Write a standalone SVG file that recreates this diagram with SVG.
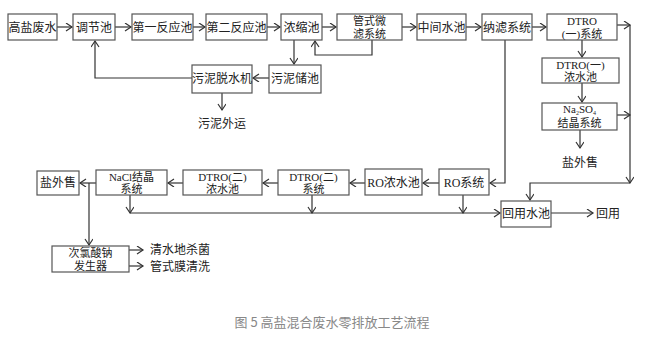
<svg xmlns="http://www.w3.org/2000/svg" width="647" height="344" viewBox="0 0 647 344">
<defs>
<marker id="ah" markerWidth="10" markerHeight="10" refX="7" refY="4" orient="auto" markerUnits="userSpaceOnUse">
<path d="M1,0 L7,4 L1,8" fill="none" stroke="#333" stroke-width="1.2"/>
</marker>
<style>
.b{fill:#fff;stroke:#555;stroke-width:1.2}
.t{font-family:"Liberation Serif","Noto Sans CJK SC",serif;font-size:12px;fill:#222;text-anchor:middle}
.t2{font-family:"Liberation Serif","Noto Sans CJK SC",serif;font-size:11px;fill:#222;text-anchor:middle}
.s{text-anchor:start}
.c path{fill:none;stroke:#333;stroke-width:1.2}
.cap{font-family:"Noto Sans CJK SC","Liberation Sans",sans-serif;font-size:13px;fill:#888;text-anchor:middle}
</style>
</defs>
<rect width="647" height="344" fill="#fff"/>
<g class="c">
<path d="M57,27 H72" marker-end="url(#ah)"/>
<path d="M115,27 H131" marker-end="url(#ah)"/>
<path d="M193,27 H205" marker-end="url(#ah)"/>
<path d="M267,27 H280" marker-end="url(#ah)"/>
<path d="M322,27 H336" marker-end="url(#ah)"/>
<path d="M402,27 H416" marker-end="url(#ah)"/>
<path d="M466,27 H481" marker-end="url(#ah)"/>
<path d="M532,27 H546" marker-end="url(#ah)"/>
<path d="M372,40 V55 H315 V41" marker-end="url(#ah)"/>
<path d="M294,40 V64" marker-end="url(#ah)"/>
<path d="M269,78 H253" marker-end="url(#ah)"/>
<path d="M192,78 H95 V41" marker-end="url(#ah)"/>
<path d="M222,93 V110" marker-end="url(#ah)"/>
<path d="M617,25 H630" marker-end="url(#ah)"/>
<path d="M630,25 V183" marker-end="url(#ah)"/>
<path d="M630,183 H530 V200" marker-end="url(#ah)"/>
<path d="M617,115 H630" marker-end="url(#ah)"/>
<path d="M582,40 V57" marker-end="url(#ah)"/>
<path d="M582,83 V102" marker-end="url(#ah)"/>
<path d="M580,130 V148" marker-end="url(#ah)"/>
<path d="M505,40 V183 H490" marker-end="url(#ah)"/>
<path d="M439,183 H423" marker-end="url(#ah)"/>
<path d="M365,183 H350" marker-end="url(#ah)"/>
<path d="M278,183 H263" marker-end="url(#ah)"/>
<path d="M183,183 H168" marker-end="url(#ah)"/>
<path d="M96,183 H80" marker-end="url(#ah)"/>
<path d="M89,183 V245" marker-end="url(#ah)"/>
<path d="M129,250 H143" marker-end="url(#ah)"/>
<path d="M129,266 H143" marker-end="url(#ah)"/>
<path d="M130,213 H500" marker-end="url(#ah)"/>
<path d="M130,195 V213" marker-end="url(#ah)"/>
<path d="M312,195 V213" marker-end="url(#ah)"/>
<path d="M463,195 V213" marker-end="url(#ah)"/>
<path d="M551,213 H593" marker-end="url(#ah)"/>
</g>
<g id="n1"><rect class="b" x="8" y="14" width="49" height="26"/><text class="t" x="32.5" y="31.5">高盐废水</text></g>
<g id="n2"><rect class="b" x="73" y="14" width="42" height="26"/><text class="t" x="94" y="31.5">调节池</text></g>
<g id="n3"><rect class="b" x="132" y="14" width="61" height="26"/><text class="t" x="162.5" y="31.5">第一反应池</text></g>
<g id="n4"><rect class="b" x="206" y="14" width="61" height="26"/><text class="t" x="236.5" y="31.5">第二反应池</text></g>
<g id="n5"><rect class="b" x="281" y="14" width="41" height="26"/><text class="t" x="301.5" y="31.5">浓缩池</text></g>
<g id="n6"><rect class="b" x="337" y="14" width="65" height="26"/><text class="t2" x="369.5" y="25">管式微</text><text class="t2" x="369.5" y="37.5">滤系统</text></g>
<g id="n7"><rect class="b" x="417" y="14" width="49" height="26"/><text class="t" x="441.5" y="31.5">中间水池</text></g>
<g id="n8"><rect class="b" x="482" y="14" width="50" height="26"/><text class="t" x="507" y="31.5">纳滤系统</text></g>
<g id="n9"><rect class="b" x="547" y="14" width="70" height="26"/><text class="t2" x="582" y="25">DTRO</text><text class="t2" x="582" y="37.5">(一)系统</text></g>
<g id="n10"><rect class="b" x="542" y="58" width="77" height="25"/><text class="t2" x="580.5" y="68.5">DTRO(一)</text><text class="t2" x="580.5" y="81">浓水池</text></g>
<g id="n11"><rect class="b" x="542" y="103" width="75" height="27"/><text class="t2" x="579.5" y="112.5">Na<tspan font-size="6" dy="2">2</tspan><tspan dy="-2">SO</tspan><tspan font-size="6" dy="2">4</tspan></text><text class="t2" x="579.5" y="127">结晶系统</text></g>
<g id="n12"><text class="t" x="580" y="167">盐外售</text></g>
<g id="n13"><rect class="b" x="269" y="65" width="52" height="28"/><text class="t" x="295" y="83">污泥储池</text></g>
<g id="n14"><rect class="b" x="192" y="65" width="60" height="28"/><text class="t" x="222" y="83">污泥脱水机</text></g>
<g id="n15"><text class="t" x="222" y="128">污泥外运</text></g>
<g id="n16"><rect class="b" x="439" y="169" width="50" height="26"/><text class="t" x="464" y="186.5">RO系统</text></g>
<g id="n17"><rect class="b" x="365" y="169" width="57" height="26"/><text class="t" x="393.5" y="186.5">RO浓水池</text></g>
<g id="n18"><rect class="b" x="278" y="170" width="71" height="25"/><text class="t2" x="313.5" y="180.5">DTRO(二)</text><text class="t2" x="313.5" y="193">系统</text></g>
<g id="n19"><rect class="b" x="183" y="170" width="79" height="25"/><text class="t2" x="222.5" y="180.5">DTRO(二)</text><text class="t2" x="222.5" y="193">浓水池</text></g>
<g id="n20"><rect class="b" x="96" y="170" width="71" height="25"/><text class="t2" x="131.5" y="180.5">NaCl结晶</text><text class="t2" x="131.5" y="193">系统</text></g>
<g id="n21"><rect class="b" x="37" y="171" width="42" height="24"/><text class="t" x="58" y="187">盐外售</text></g>
<g id="n22"><rect class="b" x="52" y="246" width="77" height="26"/><text class="t2" x="90.5" y="257">次氯酸钠</text><text class="t2" x="90.5" y="269.5">发生器</text></g>
<g id="n23"><text class="t s" x="150" y="254">清水地杀菌</text></g>
<g id="n24"><text class="t s" x="150" y="271">管式膜清洗</text></g>
<g id="n25"><rect class="b" x="501" y="201" width="50" height="26"/><text class="t" x="526" y="218">回用水池</text></g>
<g id="n26"><text class="t s" x="596" y="217.5">回用</text></g>
<text class="cap" x="332" y="327">图 5 高盐混合废水零排放工艺流程</text>
</svg>
